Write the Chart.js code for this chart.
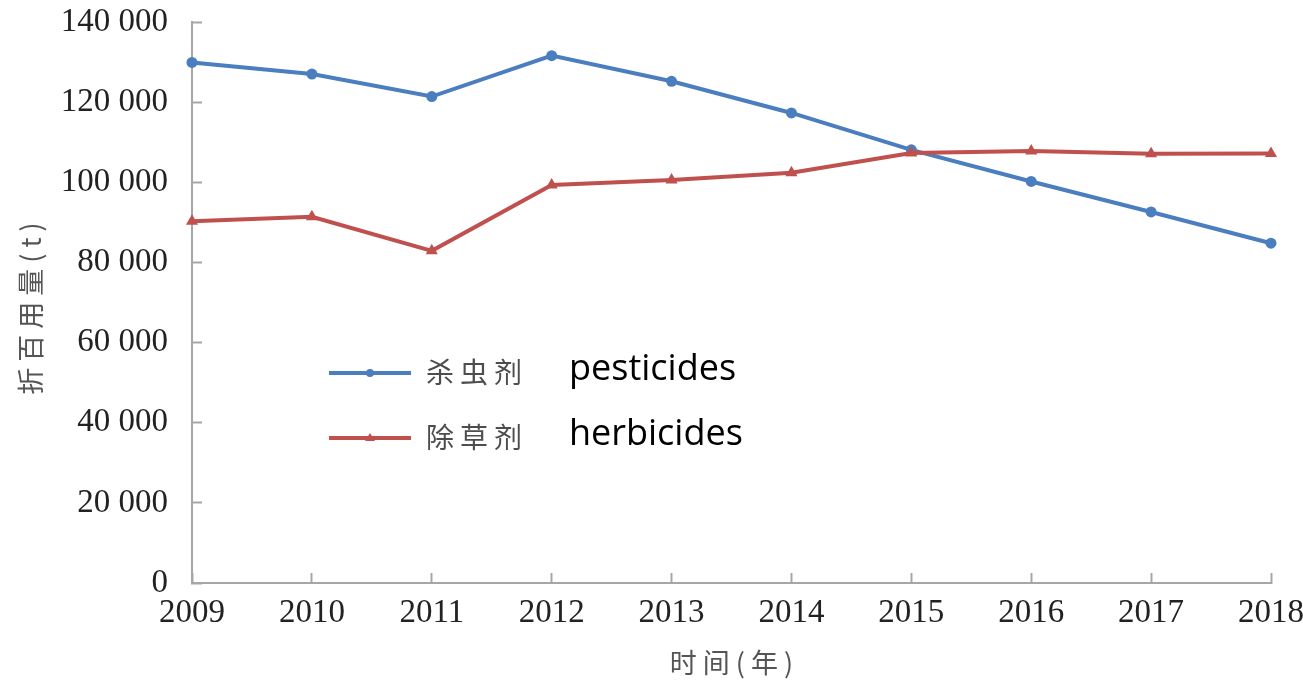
<!DOCTYPE html>
<html>
<head>
<meta charset="utf-8">
<script src="https://cdn.jsdelivr.net/npm/chart.js@4.4.1/dist/chart.umd.min.js"></script>
<style>
  html, body { margin: 0; padding: 0; background: #ffffff; }
  #wrap { width: 1303px; height: 681px; position: relative; }
</style>
</head>
<body>
<div id="wrap"><canvas id="c" width="1303" height="681"></canvas></div>
<script>
// ---- data ----
const years = ['2009', '2010', '2011', '2012', '2013', '2014', '2015', '2016', '2017', '2018'];
const pesticides = [129900, 127000, 121400, 131600, 125200, 117300, 108100, 100200, 92600, 84800];
const herbicides = [90300, 91400, 82900, 99300, 100600, 102400, 107300, 107800, 107100, 107200];
const seriesNamesZh = ['杀虫剂', '除草剂'];
const seriesNamesEn = ['pesticides', 'herbicides'];
const yMin = 0, yMax = 140000, yStep = 20000;
const xTitle = '时间(年)';
const yTitle = '折百用量(t)';

const BLUE = '#4a7ebf';
const RED = '#c0504d';
const AXIS = '#a6a6a6';

function fmt(v) {
  return String(v).replace(/\B(?=(\d{3})+(?!\d))/g, ' ');
}

const legendPlugin = {
  id: 'customLegend',
  afterDraw(chart) {
    const ctx = chart.ctx;
    const area = chart.chartArea;
    // axis titles
    ctx.save();
    ctx.fillStyle = '#555555';
    ctx.font = '27px "Noto Sans CJK SC"';
    ctx.textBaseline = 'middle';
    ctx.textAlign = 'center';
    try { ctx.letterSpacing = '6px'; } catch (e) {}
    ctx.fillText(xTitle, (area.left + area.right) / 2 + 3, 663);
    ctx.translate(31, (area.top + area.bottom) / 2 + 6);
    ctx.rotate(-Math.PI / 2);
    ctx.fillText(yTitle, 3, 0);
    ctx.restore();

    const rows = [373, 438];
    chart.data.datasets.forEach((ds, i) => {
      const y = rows[i];
      ctx.save();
      ctx.strokeStyle = ds.borderColor;
      ctx.lineWidth = 4;
      ctx.beginPath();
      ctx.moveTo(329, y);
      ctx.lineTo(411, y);
      ctx.stroke();
      ctx.fillStyle = ds.borderColor;
      if (ds.pointStyle === 'triangle') {
        ctx.beginPath();
        ctx.moveTo(370, y - 5);
        ctx.lineTo(375, y + 3);
        ctx.lineTo(365, y + 3);
        ctx.closePath();
        ctx.fill();
      } else {
        ctx.beginPath();
        ctx.arc(370, y, 4, 0, Math.PI * 2);
        ctx.fill();
      }
      ctx.textBaseline = 'middle';
      ctx.textAlign = 'left';
      ctx.fillStyle = '#4d4d4d';
      ctx.font = '28px "Noto Sans CJK SC"';
      const zh = seriesNamesZh[i];
      let x = 426;
      for (const ch of zh) {
        ctx.fillText(ch, x, y - 1);
        x += 34;
      }
      ctx.fillStyle = '#000000';
      ctx.font = '36px "Open Sans"';
      ctx.fillText(seriesNamesEn[i], 569, y - 3);
      ctx.restore();
    });
  }
};

new Chart(document.getElementById('c'), {
  type: 'line',
  data: {
    labels: years,
    datasets: [
      {
        label: seriesNamesZh[0],
        data: pesticides,
        borderColor: BLUE,
        backgroundColor: BLUE,
        borderWidth: 4,
        pointStyle: 'circle',
        pointRadius: 5.5,
        pointBorderWidth: 0,
        pointHoverRadius: 5.5,
        tension: 0,
        clip: false,
        order: 1
      },
      {
        label: seriesNamesZh[1],
        data: herbicides,
        borderColor: RED,
        backgroundColor: RED,
        borderWidth: 4,
        pointStyle: 'triangle',
        pointRadius: 7,
        pointBorderWidth: 0,
        pointHoverRadius: 7,
        tension: 0,
        clip: false,
        order: 0
      }
    ]
  },
  options: {
    responsive: false,
    animation: false,
    devicePixelRatio: 1,
    layout: { padding: { top: 22, right: 32, bottom: 0, left: 0 } },
    plugins: {
      legend: { display: false },
      tooltip: { enabled: false },
      title: { display: false }
    },
    scales: {
      x: {
        type: 'category',
        offset: false,
        grid: {
          display: true,
          drawOnChartArea: false,
          drawTicks: true,
          tickLength: -10,
          tickColor: AXIS,
          tickWidth: 2
        },
        border: { display: true, color: AXIS, width: 2 },
        ticks: {
          color: '#222222',
          font: { family: '"Liberation Serif", "DejaVu Serif", serif', size: 33 },
          padding: 21,
          maxRotation: 0,
          autoSkip: false
        },
        title: { display: false, text: xTitle },
        afterFit(scale) {
          scale.height = 98;
          scale.paddingLeft = 0;
          scale.paddingRight = 0;
          scale.paddingTop = 0;
          scale.paddingBottom = 0;
        }
      },
      y: {
        type: 'linear',
        min: yMin,
        max: yMax,
        grid: {
          display: true,
          drawOnChartArea: false,
          drawTicks: true,
          tickLength: -10,
          tickColor: AXIS,
          tickWidth: 2
        },
        border: { display: true, color: AXIS, width: 2 },
        ticks: {
          stepSize: yStep,
          color: '#222222',
          font: { family: '"Liberation Serif", "DejaVu Serif", serif', size: 33 },
          padding: 34,
          callback: (v) => fmt(v)
        },
        title: { display: false, text: yTitle },
        afterFit(scale) {
          scale.width = 192;
          scale.paddingTop = 0;
          scale.paddingBottom = 0;
          scale.paddingLeft = 0;
          scale.paddingRight = 0;
        }
      }
    }
  },
  plugins: [legendPlugin]
});
</script>
</body>
</html>
